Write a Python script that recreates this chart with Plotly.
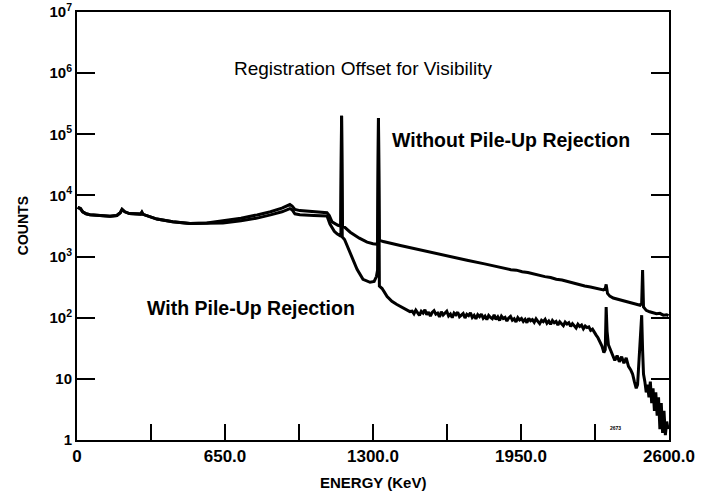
import plotly.graph_objects as go

# ---------------- data ----------------
# Spectrum WITHOUT pile-up rejection (upper trace): energy keV, counts
E_without = [3, 15, 25, 40, 57, 90, 145, 175, 190, 198, 210, 230, 265, 280, 285, 290,
             351, 420, 496, 570, 641, 720, 791, 850, 900, 935, 945, 957, 979, 1040,
             1098, 1108, 1120, 1146, 1158, 1162, 1166, 1176, 1200, 1240, 1274, 1300,
             1315, 1320, 1324, 1328, 1345, 1420, 1500, 1565, 1640, 1713, 1790, 1858,
             1880, 1905, 1930, 1955, 1980, 2003, 2030, 2055, 2080, 2105, 2130, 2152,
             2175, 2200, 2230, 2255, 2280, 2297, 2312, 2320, 2324, 2330, 2340, 2355,
             2385, 2410, 2430, 2455, 2473, 2480, 2484, 2488, 2500, 2515, 2530, 2545,
             2560, 2575, 2590, 2598]
C_without = [6400, 6100, 5400, 5000, 4850, 4700, 4550, 4700, 5200, 5900, 5400, 5050, 4950, 4950, 5300, 4900,
             4100, 3700, 3480, 3550, 3850, 4250, 4800, 5400, 6200, 7100, 6700, 5900, 5650, 5400,
             5200, 4700, 3700, 3250, 3150, 200000, 3100, 3000, 2500, 2000, 1720, 1620,
             1600, 1650, 185000, 1850, 1760, 1520, 1300, 1150, 1000, 870, 760, 660,
             645, 610, 600, 565, 550, 520, 500, 470, 455, 425, 415, 393,
             370, 355, 330, 318, 300, 290, 285, 300, 350, 250, 225, 210,
             195, 185, 178, 168, 160, 172, 600, 150, 132, 125, 120, 116,
             118, 110, 112, 108]

# Spectrum WITH pile-up rejection (lower trace): energy keV, counts
E_with = [3, 15, 25, 40, 57, 90, 145, 175, 190, 198, 210, 230, 265, 280, 285, 290,
          351, 420, 496, 570, 641, 720, 791, 850, 900, 935, 945, 957, 979, 1040,
          1098, 1111, 1130, 1142, 1155, 1159, 1162, 1165, 1175, 1199, 1215, 1230,
          1256, 1287, 1305, 1315, 1320, 1324, 1328, 1340, 1362, 1383, 1405, 1430,
          1449, 1462,
          1472, 1480, 1488, 1496, 1504, 1512, 1520, 1528, 1536, 1544, 1552, 1560,
          1568, 1576, 1584, 1592, 1600, 1608, 1616, 1624, 1632, 1640, 1648, 1656,
          1664, 1672, 1680, 1688, 1696, 1704, 1712, 1720, 1728, 1736, 1744, 1752,
          1760, 1768, 1776, 1784, 1792, 1800, 1808, 1816, 1824, 1832, 1840, 1848,
          1856, 1864, 1872, 1880, 1888, 1896, 1904, 1912, 1920, 1928, 1936, 1944,
          1952, 1960, 1968, 1976, 1984, 1992, 2000, 2008, 2016, 2024, 2032, 2040,
          2048, 2056, 2064, 2072, 2080, 2088, 2096, 2104, 2112, 2120, 2128, 2136,
          2144, 2152, 2160, 2168, 2176, 2184, 2192, 2200, 2208, 2216, 2224, 2232,
          2240, 2248, 2256, 2264, 2272, 2280, 2288, 2296, 2306, 2314, 2320,
          2324, 2328, 2334, 2342, 2352, 2362, 2372, 2382, 2392, 2402, 2412, 2422,
          2432, 2440, 2448, 2456, 2462, 2468, 2474, 2480, 2484, 2488, 2494, 2500,
          2506, 2512, 2518, 2524, 2530, 2536, 2542, 2548, 2554, 2560, 2566, 2572,
          2578, 2584, 2590, 2596]
C_with = [6400, 6100, 5400, 5000, 4850, 4700, 4550, 4700, 5200, 5900, 5400, 5050, 4950, 4950, 5300, 4900,
          4100, 3700, 3480, 3500, 3550, 3850, 4250, 4800, 5400, 6100, 5800, 5000, 4850, 4700,
          4600, 3400, 2600, 2350, 2150, 2150, 200000, 2100, 1900, 1170, 820, 620,
          425, 380, 392, 470, 600, 185000, 330, 300, 222, 185, 164, 145,
          134, 126,
          128, 116, 133, 121, 109, 127, 119, 135, 112, 124, 106, 122,
          130, 114, 119, 103, 125, 111, 118, 128, 107, 115, 100, 119,
          112, 123, 104, 110, 117, 99, 114, 108, 120, 101, 109, 96,
          112, 104, 115, 98, 106, 93, 109, 101, 96, 111, 94, 103,
          90, 106, 97, 101, 88, 99, 105, 91, 96, 85, 100, 92,
          97, 87, 94, 83, 98, 89, 93, 84, 96, 87, 80, 91,
          86, 94, 81, 88, 78, 90, 83, 87, 76, 86, 81, 74,
          85, 79, 83, 72, 80, 75, 68, 78, 72, 76, 66, 73,
          69, 71, 62, 65, 57, 52, 47, 41, 34, 27, 30,
          150, 60, 36, 30, 25, 20, 24, 19, 23, 18, 22, 16,
          14, 12, 9, 7, 8, 20, 45, 110, 30, 12, 9, 6,
          8, 5, 9, 4, 7, 3, 6, 2.5, 5, 1.5, 4, 1.3,
          3, 1.2, 2, 1.5]

x_tickvals = [0, 325, 650, 975, 1300, 1625, 1950, 2275, 2600]
x_ticktext = ["0", "", "650.0", "", "1300.0", "", "1950.0", "", "2600.0"]
y_tickvals = [1, 10, 100, 1e3, 1e4, 1e5, 1e6, 1e7]
y_ticktext = ["1", "10", "10<sup>2</sup>", "10<sup>3</sup>", "10<sup>4</sup>",
              "10<sup>5</sup>", "10<sup>6</sup>", "10<sup>7</sup>"]

FONT = "Arial, Liberation Sans, Helvetica, sans-serif"

fig = go.Figure()
fig.add_trace(go.Scatter(x=E_without, y=C_without, mode="lines",
                         line=dict(color="black", width=3), showlegend=False))
fig.add_trace(go.Scatter(x=E_with, y=C_with, mode="lines",
                         line=dict(color="black", width=3), showlegend=False))

fig.update_layout(
    width=719, height=496,
    margin=dict(l=77, r=50, t=12, b=56, autoexpand=False),
    paper_bgcolor="white", plot_bgcolor="white",
    font=dict(family=FONT, color="black"),
    xaxis=dict(range=[0, 2600], tickvals=x_tickvals, ticktext=x_ticktext,
               ticks="inside", ticklen=16, tickwidth=2, tickcolor="black",
               showline=True, linewidth=2, linecolor="black", mirror=True,
               showgrid=False, zeroline=False, automargin=False,
               tickfont=dict(size=17, family=FONT, weight="bold")),
    yaxis=dict(type="log", range=[0, 7], tickvals=y_tickvals, ticktext=y_ticktext,
               ticks="inside", ticklen=18, tickwidth=2, tickcolor="black",
               showline=True, linewidth=2, linecolor="black", mirror="ticks",
               showgrid=False, zeroline=False, automargin=False,
               tickfont=dict(size=15, family=FONT, weight="bold")),
    annotations=[
        dict(text="Registration Offset for Visibility", xref="paper", yref="paper",
             x=0.262, y=0.869, xanchor="left", yanchor="middle", showarrow=False,
             font=dict(size=19, family=FONT)),
        dict(text="Without Pile-Up Rejection", xref="paper", yref="paper",
             x=0.529, y=0.701, xanchor="left", yanchor="middle", showarrow=False,
             font=dict(size=19.5, family=FONT, weight="bold")),
        dict(text="With Pile-Up Rejection", xref="paper", yref="paper",
             x=0.115, y=0.308, xanchor="left", yanchor="middle", showarrow=False,
             font=dict(size=19.5, family=FONT, weight="bold")),
        dict(text="COUNTS", xref="paper", yref="paper", x=-0.091, y=0.5,
             xanchor="center", yanchor="middle", textangle=-90, showarrow=False,
             font=dict(size=14, family=FONT, weight="bold")),
        dict(text="ENERGY (KeV)", xref="paper", yref="paper", x=0.5, y=-0.10,
             xanchor="center", yanchor="middle", showarrow=False,
             font=dict(size=15, family=FONT, weight="bold")),
        dict(text="2673", xref="paper", yref="paper", x=0.909, y=0.028,
             xanchor="center", yanchor="middle", showarrow=False,
             font=dict(size=5, family=FONT, weight="bold")),
    ],
)

fig.write_html("out.html",
               config={"displayModeBar": False},
               post_script="document.body.style.margin='0';document.body.style.overflow='hidden';")
